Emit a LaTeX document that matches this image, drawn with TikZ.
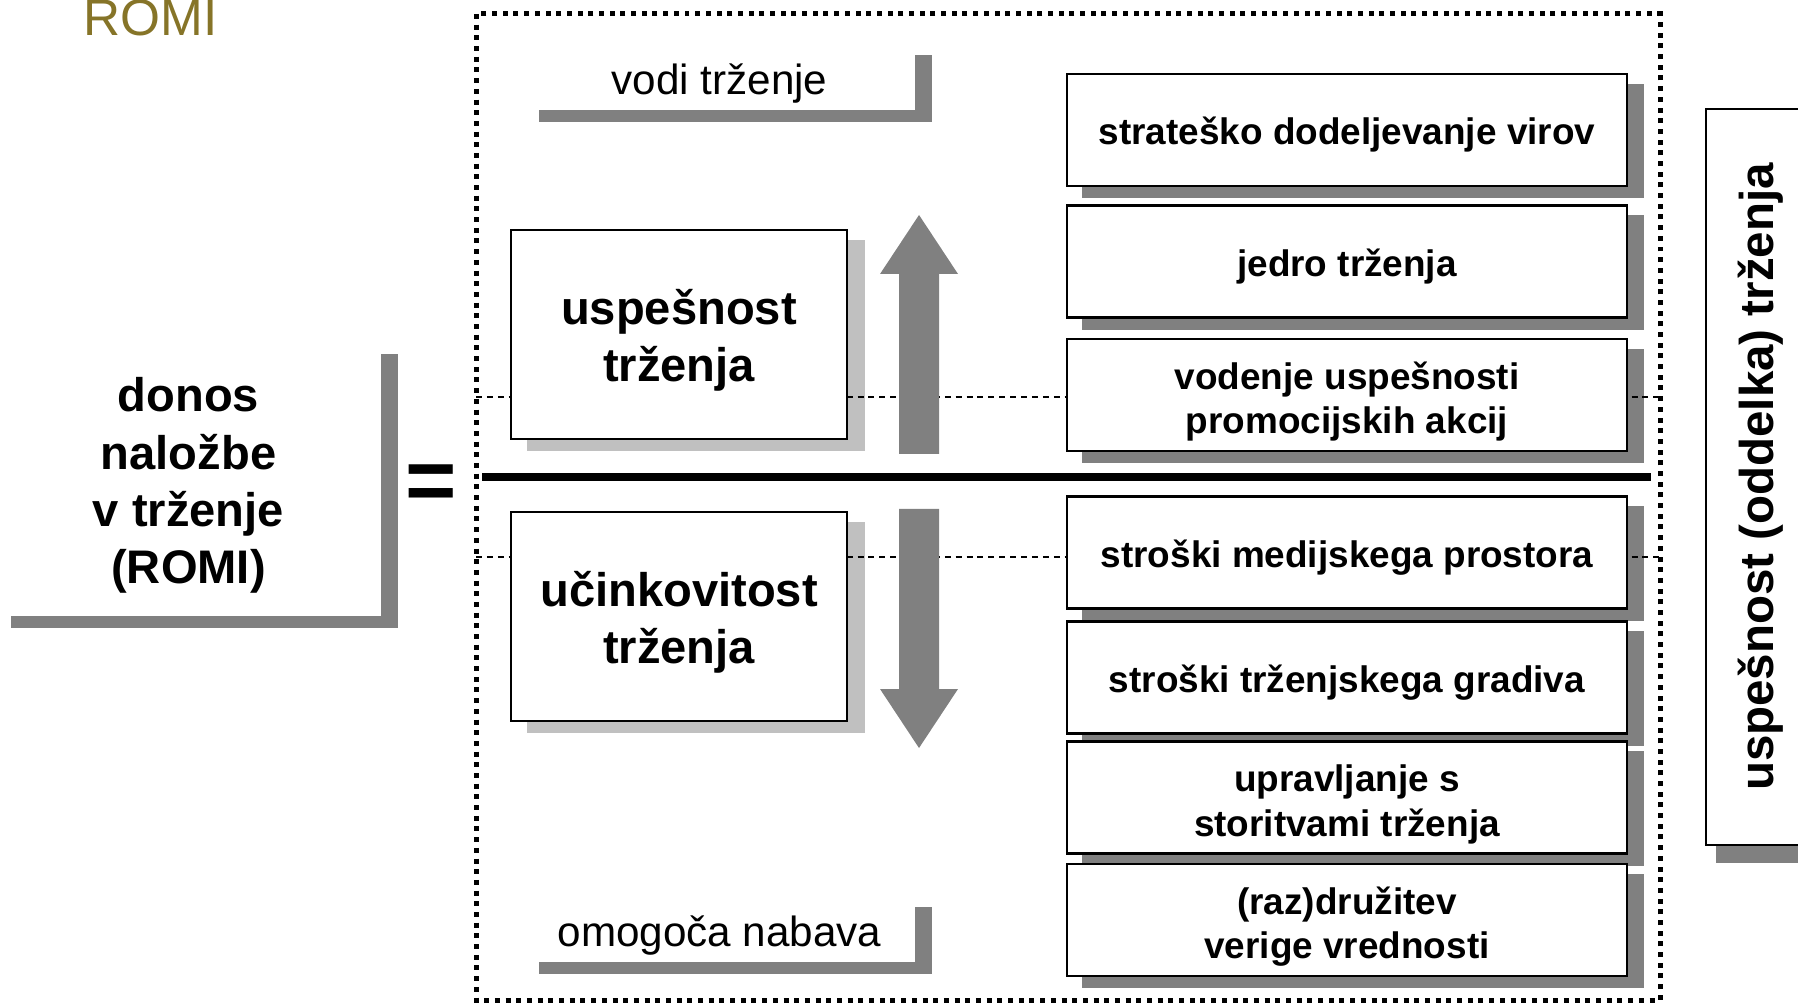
\documentclass[tikz,border=0pt]{standalone}
\usepackage{fontspec}
\setmainfont{Liberation Sans}
\usetikzlibrary{positioning}
\definecolor{romiolive}{RGB}{134,116,40}
\definecolor{shadedark}{RGB}{128,128,128}
\definecolor{shadelight}{RGB}{192,192,192}
\pgfdeclarelayer{shade}
\pgfdeclarelayer{guide}
\pgfsetlayers{shade,guide,main}

\begin{document}
\begin{tikzpicture}[x=0.01cm, y=-0.01cm,
  task/.style={draw, line width=0.6pt, fill=white, minimum width=5.6cm, minimum height=1.12cm, inner sep=0pt, align=center, text depth=2.2pt, font=\fontsize{10.5}{12.6}\selectfont\bfseries},
  measure/.style={draw, line width=0.6pt, fill=white, minimum width=3.36cm, minimum height=2.08cm, inner sep=0pt, align=center, text height=29.7pt, text depth=2.8pt, font=\fontsize{13.4}{16.3}\selectfont\bfseries},
  tag/.style={fill=white, minimum width=3.91cm, minimum height=0.65cm, inner sep=0pt, text height=9.6pt, text depth=0pt, font=\fontsize{12}{14}\selectfont},
  guideline/.style={dash pattern=on 1.7pt off 1.4pt, line width=0.5pt},
  outerframe/.style={dash pattern=on 1.42pt off 1.62pt, line width=1.42pt},
]
\path[use as bounding box] (0,0) rectangle (1798,1004);
\clip (0,0) rectangle (1798,1004);

% Title
\node[font=\fontsize{14.6}{17}\selectfont, text=romiolive, anchor=base west, inner sep=0pt] (romi) at (83,36) {ROMI};

% Frame and divider
\draw[outerframe] (476,14) rectangle (1660,1000);
\draw[line width=2.28pt] (482,477) -- (1651,477);

% Left side
\node[fill=white, minimum width=3.85cm, minimum height=2.72cm, inner sep=0pt, align=center, text height=61.9pt, text depth=2.8pt, font=\fontsize{13.4}{16.3}\selectfont\bfseries] (donos) at (188.5,480) {donos\\naložbe\\v trženje\\(ROMI)};
\node[font=\fontsize{25}{25}\selectfont\bfseries, inner sep=0pt] (eq) at (431,488) {=};

% Middle
\node[tag] (vodi) at (719.5,77.5) {vodi trženje};
\node[tag] (nabava) at (719.5,929.5) {omogoča nabava};
\node[measure] (uspesnost) at (679,334.5) {uspešnost\\trženja};
\node[measure] (ucinkovitost) at (679,616.5) {učinkovitost\\trženja};
\fill[shadedark] (899,454) -- (899,274) -- (880,274) -- (919,215) -- (958,274) -- (939,274) -- (939,454) -- cycle;
\fill[shadedark] (899,509) -- (899,689) -- (880,689) -- (919,748) -- (958,689) -- (939,689) -- (939,509) -- cycle;

% Right column
\foreach \n/\y/\h/\txt in {r1/130/10.5/{strateško dodeljevanje virov}, r2/261.5/10.5/{jedro trženja},
  r3/395/24.1/{vodenje uspešnosti\\promocijskih akcij}, r4/552.5/10.5/{stroški medijskega prostora},
  r5/677.5/10.5/{stroški trženjskega gradiva}, r6/797.5/24.1/{upravljanje s\\storitvami trženja},
  r7/920/24.1/{(raz)družitev\\verige vrednosti}} {
  \node[task, text height=\h pt] (\n) at (1347,\y) {\txt};
}
\node[draw, line width=0.6pt, fill=white, rotate=90, minimum width=7.36cm, minimum height=1.1cm, inner sep=0pt, font=\fontsize{13.5}{16}\selectfont\bfseries] (oddelek) at (1761,477) {uspešnost (oddelka) trženja};

% Shadows
\begin{pgfonlayer}{shade}
\foreach \n in {r1,r2,r3,r4,r5,r6,r7,vodi,nabava,donos} {
  \fill[shadedark] ([shift={(16,11)}]\n.north west) rectangle ([shift={(16,11)}]\n.south east);
}
\foreach \n in {uspesnost,ucinkovitost} {
  \fill[shadelight] ([shift={(17,11)}]\n.north west) rectangle ([shift={(17,11)}]\n.south east);
}
\fill[shadedark] ([shift={(11,17)}]oddelek.north west) rectangle ([shift={(11,17)}]oddelek.south east);
\end{pgfonlayer}

% Guides
\begin{pgfonlayer}{guide}
\draw[guideline] (476,397) -- (1660,397);
\draw[guideline] (476,557) -- (1660,557);
\end{pgfonlayer}
\end{tikzpicture}
\end{document}
